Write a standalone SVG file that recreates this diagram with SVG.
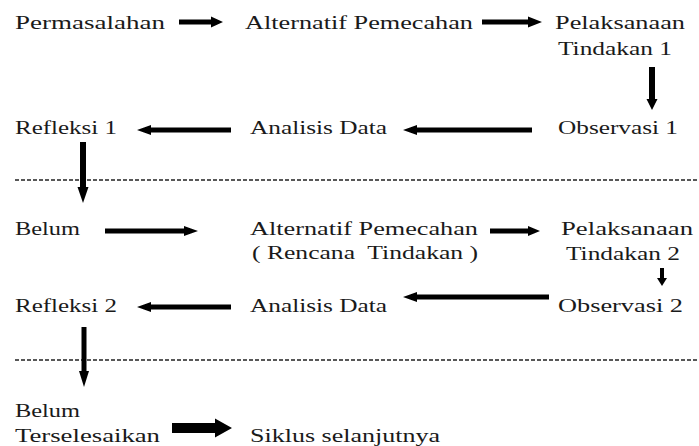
<svg xmlns="http://www.w3.org/2000/svg" width="699" height="446" viewBox="0 0 699 446">
<style>
text{font-family:"Liberation Serif","Times New Roman",serif;font-size:18px;fill:#1a1a1a;}
.arr{fill:#000;}
.dash{stroke:#222;stroke-width:1.6;stroke-dasharray:4 2;fill:none;}
</style>
<rect width="699" height="446" fill="#fff"/>
<g id="separators">
<line class="dash" x1="15" y1="180" x2="699" y2="180"/>
<line class="dash" x1="15" y1="360" x2="699" y2="360"/>
</g>
<g id="connectors">
<path class="arr" d="M179 19.5 H211 V16.5 L223 22 L211 27.5 V24.5 H179 Z"/>
<path class="arr" d="M482 19.5 H528 V16.5 L542 22 L528 27.5 V24.5 H482 Z"/>
<path class="arr" d="M649 67 V99 H646.5 L652 110 L657.5 99 H655 V67 Z"/>
<path class="arr" d="M532 127.5 H417 V125 L403 130 L417 135 V132.5 H532 Z"/>
<path class="arr" d="M231 127.5 H151 V125 L137 130 L151 135 V132.5 H231 Z"/>
<path class="arr" d="M80 142 V187 H77.5 L83 203 L88.5 187 H86 V142 Z"/>
<path class="arr" d="M105 228.5 H184 V226 L198 231 L184 236 V233.5 H105 Z"/>
<path class="arr" d="M490 228.5 H528 V226 L540 231 L528 236 V233.5 H490 Z"/>
<path class="arr" d="M660 268 V278 H657 L662 286 L667 278 H664 V268 Z"/>
<path class="arr" d="M549 294.5 H417 V292 L403 297 L417 302 V299.5 H549 Z"/>
<path class="arr" d="M231 304.5 H151 V302 L137 307 L151 312 V309.5 H231 Z"/>
<path class="arr" d="M81.5 327 V371 H79 L84 387 L89 371 H86.5 V327 Z"/>
<path class="arr" d="M172 423 H215 V418.5 L232 428 L215 437.5 V433 H172 Z"/>
</g>
<g id="permasalahan"><text x="15" y="29" textLength="150" lengthAdjust="spacingAndGlyphs">Permasalahan</text></g>
<g id="alternatif1"><text x="245" y="29" textLength="228" lengthAdjust="spacingAndGlyphs">Alternatif Pemecahan</text></g>
<g id="pelaksanaan1"><text x="555" y="29" textLength="130" lengthAdjust="spacingAndGlyphs">Pelaksanaan</text><text x="558" y="55" textLength="114" lengthAdjust="spacingAndGlyphs">Tindakan 1</text></g>
<g id="refleksi1"><text x="15" y="134" textLength="102" lengthAdjust="spacingAndGlyphs">Refleksi 1</text></g>
<g id="analisis1"><text x="250" y="134" textLength="137" lengthAdjust="spacingAndGlyphs">Analisis Data</text></g>
<g id="observasi1"><text x="558" y="134" textLength="120" lengthAdjust="spacingAndGlyphs">Observasi 1</text></g>
<g id="belum1"><text x="15" y="235" textLength="65" lengthAdjust="spacingAndGlyphs">Belum</text></g>
<g id="alternatif2"><text x="250" y="235" textLength="228" lengthAdjust="spacingAndGlyphs">Alternatif Pemecahan</text><text x="252" y="259" textLength="226" lengthAdjust="spacingAndGlyphs" xml:space="preserve">( Rencana  Tindakan )</text></g>
<g id="pelaksanaan2"><text x="561" y="235" textLength="132" lengthAdjust="spacingAndGlyphs">Pelaksanaan</text><text x="566" y="260" textLength="114" lengthAdjust="spacingAndGlyphs">Tindakan 2</text></g>
<g id="refleksi2"><text x="15" y="312" textLength="102" lengthAdjust="spacingAndGlyphs">Refleksi 2</text></g>
<g id="analisis2"><text x="250" y="312" textLength="137" lengthAdjust="spacingAndGlyphs">Analisis Data</text></g>
<g id="observasi2"><text x="558" y="312" textLength="125" lengthAdjust="spacingAndGlyphs">Observasi 2</text></g>
<g id="belum2"><text x="15" y="417" textLength="65" lengthAdjust="spacingAndGlyphs">Belum</text><text x="15" y="442" textLength="145" lengthAdjust="spacingAndGlyphs">Terselesaikan</text></g>
<g id="siklus"><text x="250" y="442" textLength="190" lengthAdjust="spacingAndGlyphs">Siklus selanjutnya</text></g>
</svg>
